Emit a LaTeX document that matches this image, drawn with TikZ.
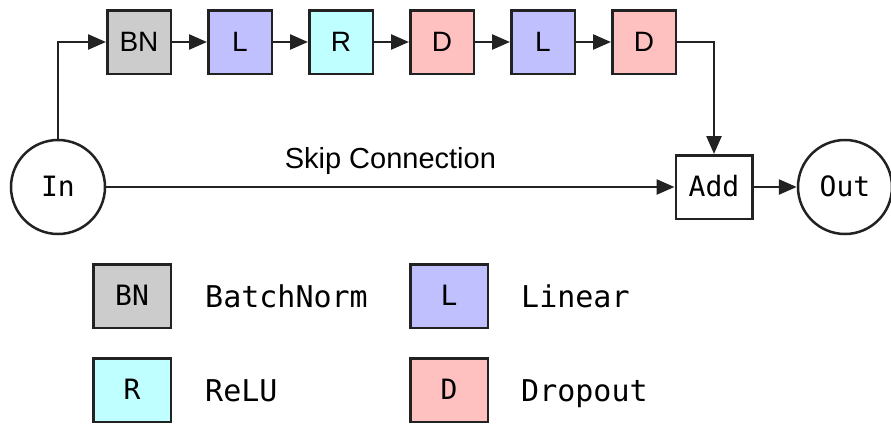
\documentclass[tikz,border=0pt]{standalone}
\usepackage{fontspec}
\setmainfont{Liberation Sans}
\newfontfamily\monof{DejaVu Sans Mono}
\usetikzlibrary{arrows.meta}
\definecolor{linec}{HTML}{222222}
\definecolor{bnfill}{HTML}{CCCCCC}
\definecolor{lfill}{HTML}{C0C0FF}
\definecolor{rfill}{HTML}{C0FFFF}
\definecolor{dfill}{HTML}{FFC0C0}
\begin{document}
\begin{tikzpicture}[x=1pt,y=-1pt,
  blk/.style={draw=linec, line width=2.5pt, minimum width=63.5pt, minimum height=63.5pt,
    inner sep=0pt, text height=19pt, text depth=0pt,
    font=\fontsize{28}{28}\selectfont},
  legbox/.style={blk, minimum width=77.5pt, font=\monof\fontsize{28}{28}\selectfont},
  addbox/.style={blk, fill=white, minimum width=76.5pt, font=\monof\fontsize{28}{28}\selectfont},
  circ/.style={circle, draw=linec, line width=2.5pt, minimum size=94pt, inner sep=0pt,
    text height=19pt, text depth=0pt, font=\monof\fontsize{28}{28}\selectfont},
  legtext/.style={anchor=base west, inner sep=0pt, font=\monof\fontsize{30}{30}\selectfont},
  arr/.style={draw=linec, line width=2.5pt, -{Triangle[length=18pt,width=15pt]}},
  ln/.style={draw=linec, line width=2.5pt}]
\useasboundingbox (0,0) rectangle (891,423);

% main row
\node[blk, fill=bnfill] (bn) at (139,42) {BN};
\node[blk, fill=lfill] (l1) at (240,42) {L};
\node[blk, fill=rfill] (r1) at (341,42) {R};
\node[blk, fill=dfill] (d1) at (442,42) {D};
\node[blk, fill=lfill] (l2) at (543,42) {L};
\node[blk, fill=dfill] (d2) at (644,42) {D};

\node[circ] (in) at (58,187) {In};
\node[addbox] (add) at (714,187) {Add};
\node[circ] (out) at (845,187) {Out};

\draw[arr] (in.north) |- (bn.west);
\draw[arr] (bn) -- (l1);
\draw[arr] (l1) -- (r1);
\draw[arr] (r1) -- (d1);
\draw[arr] (d1) -- (l2);
\draw[arr] (l2) -- (d2);
\draw[arr] (d2.east) -| (add.north);
\draw[arr] (in) -- node[above=11pt, inner sep=0pt, font=\fontsize{29}{29}\selectfont] {Skip Connection} (add);
\draw[arr] (add) -- (out);

% legend
\node[legbox, fill=bnfill] (lbn) at (132,296) {BN};
\node[legtext] (tbn) at (205,307) {BatchNorm};
\node[legbox, fill=lfill] (ll) at (449,296) {L};
\node[legtext] (tl) at (521,307) {Linear};
\node[legbox, fill=rfill] (lr) at (132,390) {R};
\node[legtext] (tr) at (205,401) {ReLU};
\node[legbox, fill=dfill] (ld) at (449,390) {D};
\node[legtext] (td) at (521,401) {Dropout};
\end{tikzpicture}
\end{document}
